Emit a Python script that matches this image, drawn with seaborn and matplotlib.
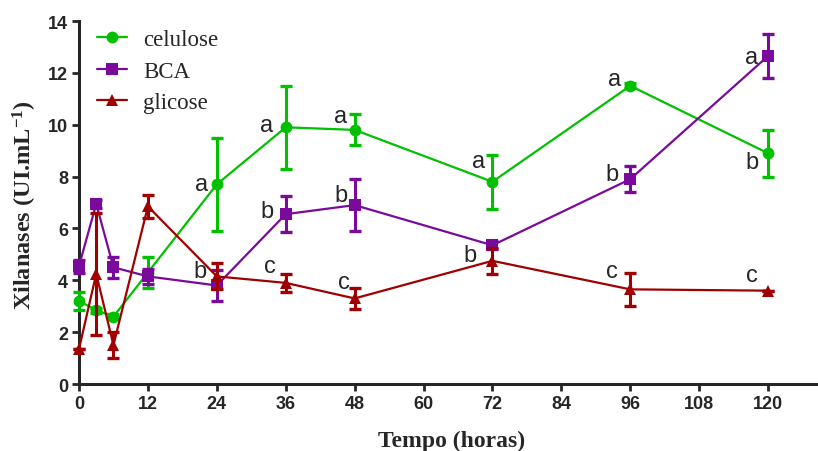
import numpy as np
import pandas as pd
import seaborn as sns
import matplotlib
matplotlib.use("Agg")
import matplotlib.pyplot as plt

# ---- data ----
tempo = [0, 3, 6, 12, 24, 36, 48, 72, 96, 120]
celulose = [3.2, 2.85, 2.6, 4.3, 7.7, 9.9, 9.8, 7.8, 11.5, 8.9]
celulose_err = [0.35, 0.1, 0.1, 0.6, 1.8, 1.6, 0.6, 1.05, 0.1, 0.9]
bca = [4.55, 6.95, 4.5, 4.15, 3.8, 6.55, 6.9, 5.35, 7.9, 12.65]
bca_err = [0.25, 0.15, 0.4, 0.3, 0.6, 0.7, 1.0, 0.15, 0.5, 0.85]
glicose = [1.35, 4.25, 1.5, 6.85, 4.15, 3.9, 3.3, 4.75, 3.65, 3.6]
glicose_err = [0.0, 2.35, 0.5, 0.45, 0.5, 0.35, 0.4, 0.5, 0.65, 0.0]
series_names = ["celulose", "BCA", "glicose"]
x_ticks = [0, 12, 24, 36, 48, 60, 72, 84, 96, 108, 120]
y_ticks = [0, 2, 4, 6, 8, 10, 12, 14]

# letters: (time, series, letter, dx_px, dy_px)
letras = [
    (24, "celulose", "a", -15, 0), (24, "glicose", "b", -17, 5),
    (36, "celulose", "a", -19, 2), (36, "BCA", "b", -19, 3), (36, "glicose", "c", -16, 17),
    (48, "celulose", "a", -14, 14), (48, "BCA", "b", -14, 10), (48, "glicose", "c", -11, 16),
    (72, "celulose", "a", -14, 21), (72, "BCA", "b", -22, -10),
    (96, "celulose", "a", -16, 7), (96, "BCA", "b", -18, 5), (96, "glicose", "c", -18, 18),
    (120, "BCA", "a", -16, -1), (120, "celulose", "b", -16, -9), (120, "glicose", "c", -16, 16),
]

sns.set_style("ticks")
plt.rcParams['font.family'] = ['Liberation Sans', 'DejaVu Sans']
plt.rcParams['mathtext.fontset'] = 'custom'
plt.rcParams['mathtext.rm'] = 'Liberation Serif:bold'
plt.rcParams['mathtext.bf'] = 'Liberation Serif:bold'
plt.rcParams['mathtext.it'] = 'Liberation Serif:bold'

fig = plt.figure(figsize=(8.18, 4.52), dpi=100)
ax = fig.add_axes([79/818, 1 - 385/452, 1 - 79/818, (385 - 22)/452])

colors = {"celulose": "#00c000", "BCA": "#7a0a9c", "glicose": "#a00000"}
markers = {"celulose": "o", "BCA": "s", "glicose": "^"}
msizes = {"celulose": 8.5, "BCA": 8.5, "glicose": 9}
vals = {"celulose": (celulose, celulose_err), "BCA": (bca, bca_err), "glicose": (glicose, glicose_err)}

for name in series_names:
    y, e = vals[name]
    df = pd.DataFrame({"tempo": tempo, "valor": y})
    sns.lineplot(data=df, x="tempo", y="valor", ax=ax, color=colors[name],
                 marker=markers[name], markersize=msizes[name], markeredgewidth=0,
                 linewidth=1.6, label=name, zorder=3)
    eb = ax.errorbar(tempo, y, yerr=e, fmt="none", ecolor=colors[name], elinewidth=2.2,
                     capsize=4.5, capthick=2.4, zorder=3)
    for art in eb.lines[1]:
        art.set_clip_on(False)
    for art in eb.lines[2]:
        art.set_clip_on(False)

for ln in ax.lines:
    ln.set_clip_on(False)

for t, s, letter, dx, dy in letras:
    yv = vals[s][0][tempo.index(t)]
    ax.annotate(letter, (t, yv), xytext=(dx, dy), textcoords="offset pixels",
                ha="center", va="center", fontsize=17, family="Liberation Sans")

ax.set_xlim(0, 128.7)
ax.set_ylim(0, 14)
ax.set_xticks(x_ticks)
ax.set_yticks(y_ticks)
for lab in ax.get_xticklabels() + ax.get_yticklabels():
    lab.set_fontweight("bold")
    lab.set_fontsize(13)
ax.tick_params(width=2, length=5, direction="out", pad=3)
for sp in ["left", "bottom"]:
    ax.spines[sp].set_linewidth(2.2)
sns.despine(ax=ax)
ax.spines["left"].set_bounds(0, 14)

ax.set_xlabel("Tempo (horas)", family="Liberation Serif", fontweight="bold", fontsize=17, va="top")
ax.xaxis.set_label_coords((452 - 79) / 739, (385 - 431) / 363)
ax.set_ylabel("Xilanases (UI.mL$^{-1}$)", family="Liberation Serif", fontweight="bold", fontsize=17.5)
ax.yaxis.set_label_coords((39 - 79) / 739, (385 - 205) / 363)

leg = ax.legend(loc="upper left", bbox_to_anchor=((97 - 79) / 739, (385 - 30) / 363), frameon=False,
                prop={"family": "Liberation Serif", "size": 16.5}, handlelength=1.3,
                labelspacing=0.46, handletextpad=0.7, borderaxespad=0.0, borderpad=0.0)
leg.set_zorder(5)

fig.savefig("out.png", dpi=100)
